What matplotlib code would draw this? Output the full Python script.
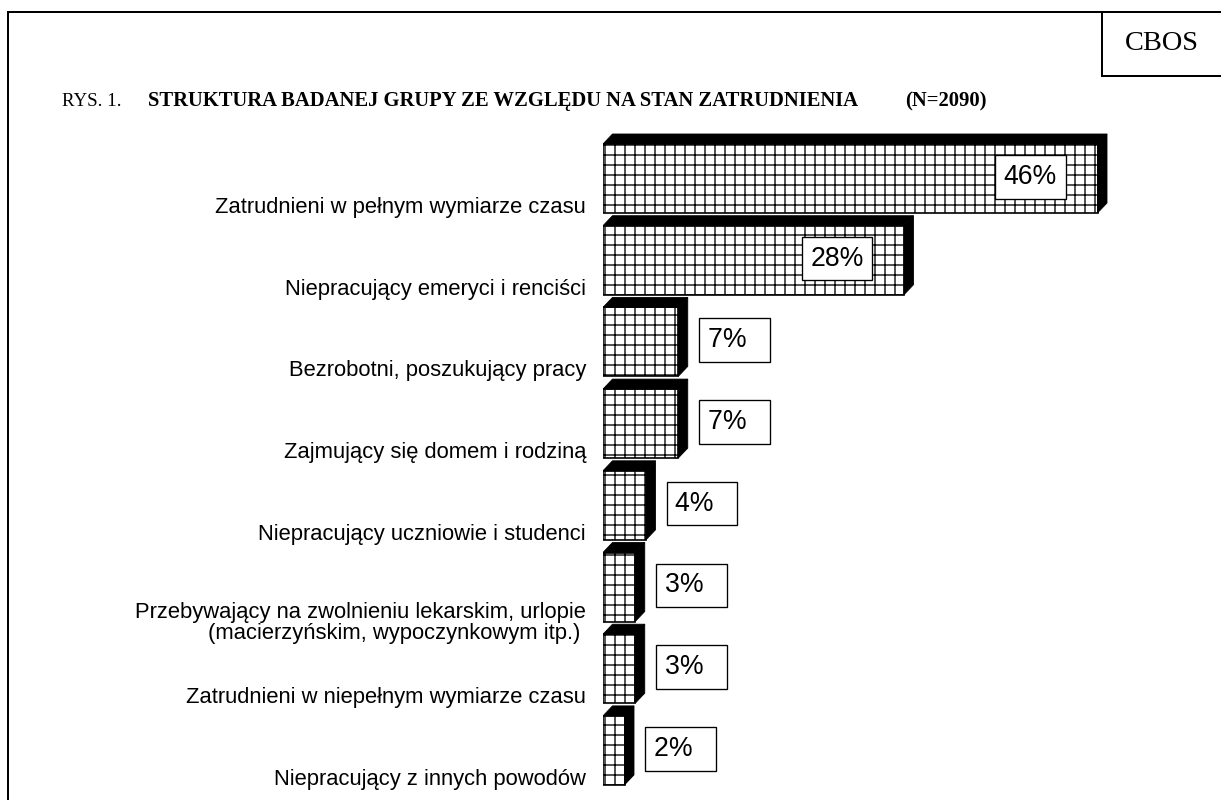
import matplotlib
matplotlib.use("Agg")
import matplotlib.pyplot as plt
from matplotlib.patches import Polygon
from matplotlib.lines import Line2D

# data
categories = [
    "Zatrudnieni w pełnym wymiarze czasu",
    "Niepracujący emeryci i renciści",
    "Bezrobotni, poszukujący pracy",
    "Zajmujący się domem i rodziną",
    "Niepracujący uczniowie i studenci",
    "Przebywający na zwolnieniu lekarskim, urlopie\n(macierzyńskim, wypoczynkowym itp.) ",
    "Zatrudnieni w niepełnym wymiarze czasu",
    "Niepracujący z innych powodów",
]
values = [46, 28, 7, 7, 4, 3, 3, 2]
value_labels = ["46%", "28%", "7%  ", "7%  ", "4%  ", "3%  ", "3%  ", "2%  "]

W, H, DPI = 1221, 800, 120
plt.rcParams["hatch.linewidth"] = 0.8

fig = plt.figure(figsize=(W / DPI, H / DPI), dpi=DPI)
fig.patch.set_facecolor("white")

# axes: x=0 sits at 603 px, 10.75 px per percent; rows every 81.7 px
px_per_pct = 10.75
row_px = 81.7
x0_px = 603
ax = fig.add_axes([x0_px / W, 0, 1 - x0_px / W, 1 - 120 / H])
ax.set_xlim(0, (W - x0_px) / px_per_pct)
ax.set_ylim((800 - 178.5) / row_px, (120 - 178.5) / row_px)
ax.axis("off")

bar_h = 69 / row_px
dx = 9.5 / px_per_pct
dy = 10 / row_px
pos = list(range(len(values)))

ax.barh(pos, values, height=bar_h, left=0, color="white",
        edgecolor="black", hatch="++", linewidth=1.0, zorder=2)

# 3-D look: black top and right side
for y, v in zip(pos, values):
    top = y - bar_h / 2
    bot = y + bar_h / 2
    ax.add_patch(Polygon([(0, top), (dx, top - dy), (v + dx, top - dy), (v, top)],
                         closed=True, facecolor="black", edgecolor="black",
                         linewidth=0.5, zorder=3))
    ax.add_patch(Polygon([(v, top), (v + dx, top - dy), (v + dx, bot - dy), (v, bot)],
                         closed=True, facecolor="black", edgecolor="black",
                         linewidth=0.5, zorder=3))

# value labels in white boxes
for y, v, lab in zip(pos, values, value_labels):
    if v > 20:
        xt = v - 67 / px_per_pct
    else:
        xt = v + 56 / px_per_pct
    ax.text(xt, y - 0.02, lab, ha="center", va="center", fontsize=16,
            family="Liberation Sans", zorder=5,
            bbox=dict(boxstyle="square,pad=0.33", facecolor="white",
                      edgecolor="black", linewidth=0.8))

# category labels on the left
for y, cat in zip(pos, categories):
    n = cat.count("\n")
    ax.annotate(cat, xy=(0, y + 29 / row_px + n * 7 / row_px),
                xytext=(-17 * 72 / DPI, 0), textcoords="offset points",
                ha="right", va="center", multialignment="right",
                fontsize=13.2, family="Liberation Sans", annotation_clip=False,
                linespacing=0.95)

# frame
lw = 2 * 72 / DPI
fig.add_artist(Line2D([8 / W, 1], [1 - 12 / H, 1 - 12 / H], color="black", lw=lw))
fig.add_artist(Line2D([8 / W, 8 / W], [0, 1 - 12 / H], color="black", lw=lw))
fig.add_artist(Line2D([1102 / W, 1102 / W], [1 - 76 / H, 1 - 12 / H], color="black", lw=lw))
fig.add_artist(Line2D([1102 / W, 1], [1 - 76 / H, 1 - 76 / H], color="black", lw=lw))
fig.text(1162 / W, 1 - 44 / H, "CBOS", ha="center", va="center",
         fontsize=17, family="Liberation Serif")

# title
base = 1 - 106 / H
fig.text(62 / W, base, "RYS. 1.", ha="left", va="baseline",
         fontsize=11.3, family="Liberation Serif")
fig.text(148 / W, base, "STRUKTURA BADANEJ GRUPY ZE WZGLĘDU NA STAN ZATRUDNIENIA",
         ha="left", va="baseline", fontsize=12.4, family="Liberation Serif",
         fontweight="bold")
fig.text(905 / W, base, "(N=2090)", ha="left", va="baseline",
         fontsize=12.4, family="Liberation Serif", fontweight="bold")

fig.savefig("out.png", dpi=DPI, facecolor="white")
